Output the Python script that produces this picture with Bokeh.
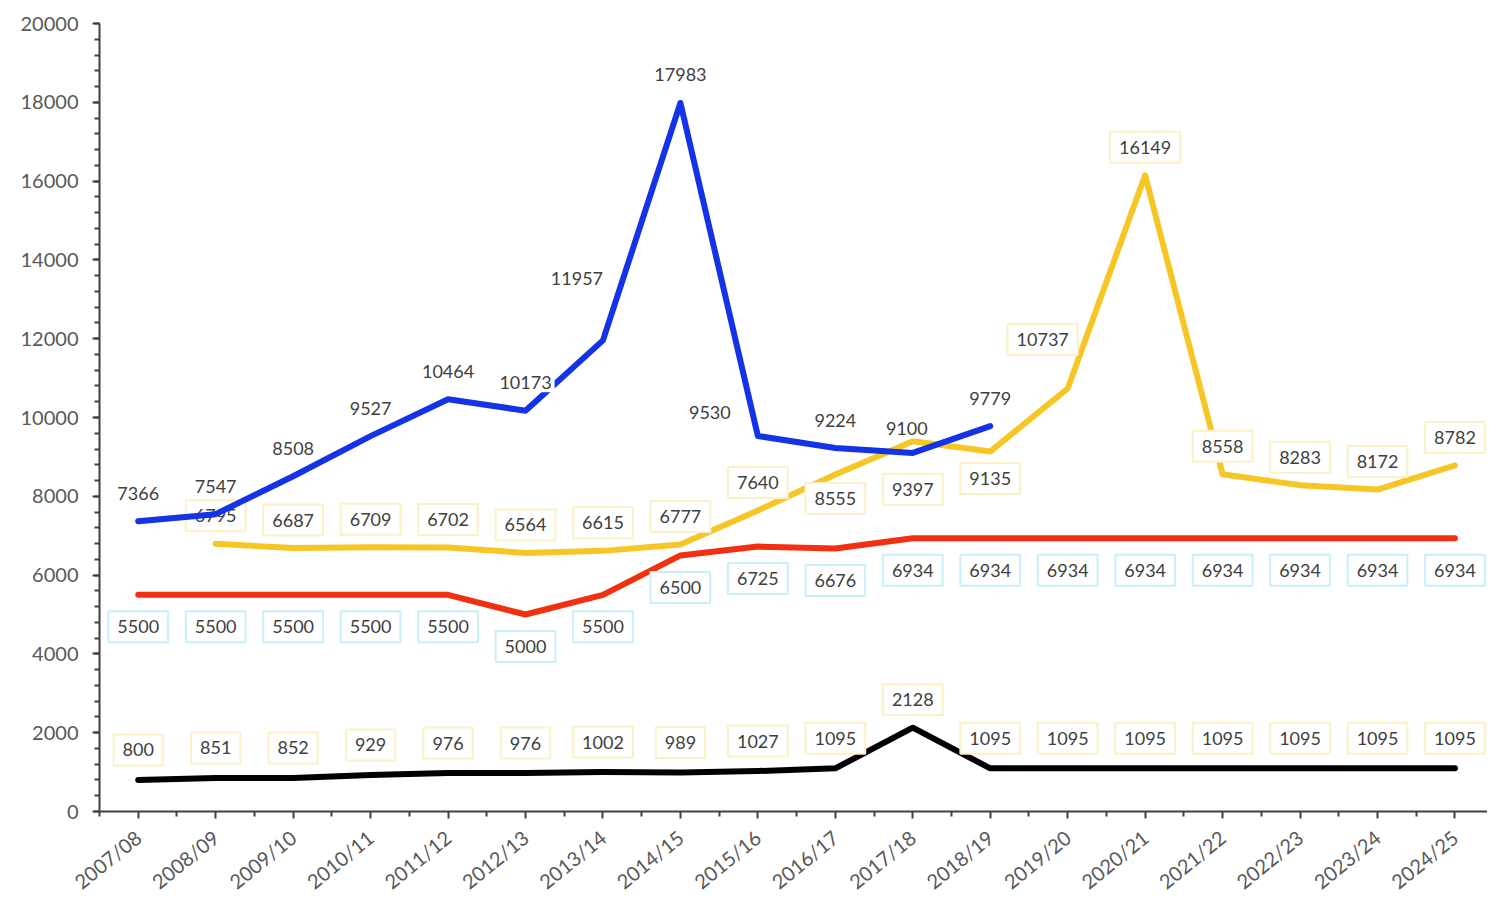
from bokeh.plotting import figure
from bokeh.models import ColumnDataSource, Range1d, FixedTicker
from bokeh.core.properties import value
from bokeh.embed import file_html
from bokeh.resources import INLINE

seasons = ["2007/08", "2008/09", "2009/10", "2010/11", "2011/12", "2012/13",
           "2013/14", "2014/15", "2015/16", "2016/17", "2017/18", "2018/19",
           "2019/20", "2020/21", "2021/22", "2022/23", "2023/24", "2024/25"]

blue_seasons = seasons[:12]
blue_values = [7366, 7547, 8508, 9527, 10464, 10173, 11957, 17983, 9530, 9224, 9100, 9779]

yellow_seasons = seasons[1:]
yellow_values = [6795, 6687, 6709, 6702, 6564, 6615, 6777, 7640, 8555, 9397, 9135,
                 10737, 16149, 8558, 8283, 8172, 8782]

red_seasons = seasons
red_values = [5500, 5500, 5500, 5500, 5500, 5000, 5500, 6500, 6725, 6676,
              6934, 6934, 6934, 6934, 6934, 6934, 6934, 6934]

black_seasons = seasons
black_values = [800, 851, 852, 929, 976, 976, 1002, 989, 1027, 1095,
                2128, 1095, 1095, 1095, 1095, 1095, 1095, 1095]

FONT = "Lato"

p = figure(width=1487, height=905, output_backend="svg", toolbar_location=None,
           x_range=Range1d(-0.5, 17.42), y_range=Range1d(0, 20000),
           min_border_left=99, min_border_top=23, min_border_bottom=93, min_border_right=0)
p.outline_line_color = None
p.grid.visible = False
p.background_fill_color = "white"
p.border_fill_color = "white"


def series(names, vals, color, default_off, overrides, box_border, pad, width=6):
    xs = [seasons.index(s) for s in names]
    dx = [overrides.get(s, default_off)[0] for s in names]
    dy = [overrides.get(s, default_off)[1] for s in names]
    src = ColumnDataSource(dict(x=xs, y=vals, txt=[str(v) for v in vals], dx=dx, dy=dy))
    p.line("x", "y", source=src, line_color=color, line_width=width,
           line_cap="round", line_join="round")
    p.text("x", "y", text="txt", source=src, x_offset="dx", y_offset="dy",
           text_align="center", text_baseline="middle",
           text_font=value(FONT), text_font_size="18px", text_color="#404040",
           background_fill_color="white", border_line_color=box_border,
           border_line_width=2, padding=pad)


series(red_seasons, red_values, "#f0300e", (0, 32), {}, "#c8f0fa", 9)
series(black_seasons, black_values, "#000000", (0, -30), {"2017/18": (0, -28)}, "#fbf1c4", 9)
series(yellow_seasons, yellow_values, "#f6c627", (0, -28),
       {"2016/17": (0, 24), "2017/18": (0, 48), "2018/19": (0, 27), "2019/20": (-25, -49)},
       "#fbf1c4", 9)
series(blue_seasons, blue_values, "#1432e6", (0, -28),
       {"2013/14": (-26, -62), "2015/16": (-48, -24), "2017/18": (-6, -24)},
       None, 3)

# axes
p.xaxis.ticker = FixedTicker(ticks=list(range(len(seasons))),
                             minor_ticks=[i - 0.5 for i in range(len(seasons) + 1)])
p.xaxis.major_label_overrides = {i: s for i, s in enumerate(seasons)}
p.xaxis.major_label_orientation = 0.68
p.yaxis.ticker = FixedTicker(ticks=list(range(0, 20001, 2000)),
                             minor_ticks=list(range(0, 20001, 400)))

for ax in (p.xaxis, p.yaxis):
    ax.axis_line_color = "#404040"
    ax.axis_line_width = 2
    ax.major_tick_line_color = "#404040"
    ax.minor_tick_line_color = "#404040"
    ax.major_tick_line_width = 2
    ax.minor_tick_line_width = 2
    ax.major_tick_in = 0
    ax.minor_tick_in = 0
    ax.major_tick_out = 7
    ax.minor_tick_out = 5
    ax.major_label_text_font = FONT
    ax.major_label_text_font_size = "20px"
    ax.major_label_text_color = "#595959"

p.yaxis.major_label_standoff = 14
p.xaxis.major_label_standoff = 16

open("out.html", "w").write(file_html(p, INLINE))
